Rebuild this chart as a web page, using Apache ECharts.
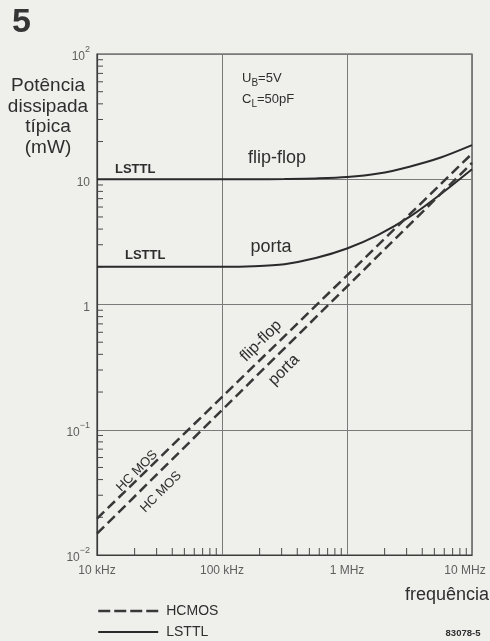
<!DOCTYPE html>
<html>
<head>
<meta charset="utf-8">
<script src="https://cdn.jsdelivr.net/npm/echarts@6/dist/echarts.min.js"></script>
<style>
html, body { margin: 0; padding: 0; background: #efefec; }
#chart { width: 490px; height: 641px; }
</style>
</head>
<body>
<div id="chart"></div>
<script>
// Frequency in kHz (quarter-decade steps), power in mW
const freqSteps = [10, 17.8, 31.6, 56.2, 100, 178, 316, 562, 1000, 1780, 3160, 5620, 10000];
const lsttlFlipFlop = [10, 10, 10, 10, 10, 10, 10.05, 10.15, 10.4, 11.1, 12.6, 14.9, 18.7];
const lsttlGate = [2, 2, 2, 2, 2, 2.02, 2.1, 2.35, 2.8, 3.6, 5.0, 7.6, 12];
// HCMOS dissipation rises straight on log-log scales: end points only
const hcmosFreq = [10, 10000];
const hcmosFlipFlop = [0.0195, 16];
const hcmosGate = [0.0148, 13.5];

const xTickValues = [10, 100, 1000, 10000];
const xTickLabels = ['10 kHz', '100 kHz', '1 MHz', '10 MHz'];
const yTickValues = [0.01, 0.1, 1, 10, 100];
const yTickBases = ['10', '10', '1', '10', '10'];
const yTickExps = ['−2', '−1', '', '', '2'];
const minorSteps = [2, 3, 4, 5, 6, 7, 8, 9];

const ink = '#2e2e2e';
const soft = '#5e5e5e';
const sans = '"Liberation Sans", Arial, sans-serif';

const pairs = (xs, ys) => xs.map((x, i) => [x, ys[i]]);

const xMinor = [];
xTickValues.slice(0, -1).forEach(d => minorSteps.forEach(m => xMinor.push([d * m, 0.01])));
const yMinor = [];
yTickValues.slice(0, -1).forEach(d => minorSteps.forEach(m => yMinor.push([10, d * m])));

function nearestIndex(list, v) {
  let best = 0;
  list.forEach((t, i) => {
    if (Math.abs(Math.log10(t) - Math.log10(v)) < Math.abs(Math.log10(list[best]) - Math.log10(v))) best = i;
  });
  return best;
}

const solidStyle = { color: '#2a2a2a', width: 2 };
const dashStyle = { color: '#383838', width: 2.5, type: [10, 5] };

const chart = echarts.init(document.getElementById('chart'), null, { renderer: 'canvas' });

chart.setOption({
  backgroundColor: '#efefec',
  animation: false,
  grid: { left: 97, right: 18, top: 54, bottom: 86, show: true, borderColor: '#3c3c3c', borderWidth: 1.2, backgroundColor: 'transparent' },
  xAxis: {
    type: 'log', logBase: 10, min: 10, max: 10000,
    axisLine: { show: true, lineStyle: { color: '#3c3c3c', width: 1.2 } },
    axisTick: { show: false },
    splitLine: { show: true, lineStyle: { color: '#7a7a7a', width: 1 } },
    axisLabel: {
      margin: 10,
      formatter: v => {
        const i = nearestIndex(xTickValues, v);
        return i === xTickValues.length - 1 ? '{r|' + xTickLabels[i] + '}' : xTickLabels[i];
      },
      color: soft, fontFamily: sans, fontSize: 12,
      rich: { r: { color: soft, fontFamily: sans, fontSize: 12, padding: [0, 14, 0, 0] } }
    }
  },
  yAxis: {
    type: 'log', logBase: 10, min: 0.01, max: 100,
    axisLine: { show: true, lineStyle: { color: '#3c3c3c', width: 1.2 } },
    axisTick: { show: false },
    splitLine: { show: true, lineStyle: { color: '#7a7a7a', width: 1 } },
    axisLabel: {
      margin: 7,
      formatter: v => {
        const i = nearestIndex(yTickValues, v);
        return '{b|' + yTickBases[i] + '}' + (yTickExps[i] ? '{s|' + yTickExps[i] + '}' : '');
      },
      rich: {
        b: { color: soft, fontFamily: sans, fontSize: 12, lineHeight: 18, verticalAlign: 'bottom' },
        s: { color: soft, fontFamily: sans, fontSize: 9, lineHeight: 18, verticalAlign: 'top' }
      }
    }
  },
  legend: {
    orient: 'vertical', left: 97, top: 604, padding: 0, itemWidth: 60, itemHeight: 14, itemGap: 7,
    selectedMode: false,
    itemStyle: { opacity: 0 },
    data: [
      { name: 'HCMOS', lineStyle: { type: [12, 4], width: 2.5, color: '#383838' }, itemStyle: { opacity: 0 } },
      { name: 'LSTTL', lineStyle: { width: 2, color: '#2a2a2a' }, itemStyle: { opacity: 0 } }
    ],
    textStyle: { color: ink, fontFamily: sans, fontSize: 14, padding: [0, 0, 0, 3] }
  },
  series: [
    { name: 'LSTTL', type: 'line', data: pairs(freqSteps, lsttlFlipFlop), symbol: 'none', smooth: 0.3,
      lineStyle: solidStyle, itemStyle: { color: solidStyle.color } },
    { name: 'LSTTL', type: 'line', data: pairs(freqSteps, lsttlGate), symbol: 'none', smooth: 0.3,
      lineStyle: solidStyle, itemStyle: { color: solidStyle.color } },
    { name: 'HCMOS', type: 'line', data: pairs(hcmosFreq, hcmosFlipFlop), symbol: 'none',
      lineStyle: dashStyle, itemStyle: { color: dashStyle.color } },
    { name: 'HCMOS', type: 'line', data: pairs(hcmosFreq, hcmosGate), symbol: 'none',
      lineStyle: dashStyle, itemStyle: { color: dashStyle.color } },
    { name: 'xMinor', type: 'custom', silent: true, data: xMinor,
      renderItem: (p, api) => {
        const pt = api.coord([api.value(0), api.value(1)]);
        return { type: 'line', shape: { x1: pt[0], y1: pt[1], x2: pt[0], y2: pt[1] - 7 }, style: { stroke: '#4a4a4a', lineWidth: 1 } };
      } },
    { name: 'yMinor', type: 'custom', silent: true, data: yMinor,
      renderItem: (p, api) => {
        const pt = api.coord([api.value(0), api.value(1)]);
        return { type: 'line', shape: { x1: pt[0], y1: pt[1], x2: pt[0] + 6, y2: pt[1] }, style: { stroke: '#4a4a4a', lineWidth: 1 } };
      } }
  ],
  graphic: [
    { type: 'text', x: 21.5, y: 23, style: { text: '5', font: 'bold 34px ' + sans, fill: '#353535', align: 'center', verticalAlign: 'middle' } },
    { type: 'text', x: 48, y: 117, style: { text: 'Potência\ndissipada\ntípica\n(mW)', font: '19px ' + sans, lineHeight: 20.5, fill: ink, align: 'center', verticalAlign: 'middle' } },
    { type: 'text', x: 242, y: 78, style: { text: '{n|U}{d|B}{n|=5V}', align: 'left', verticalAlign: 'middle',
      rich: { n: { font: '13px ' + sans, fill: ink, lineHeight: 20, verticalAlign: 'middle' }, d: { font: '10px ' + sans, fill: ink, lineHeight: 20, verticalAlign: 'bottom' } } } },
    { type: 'text', x: 242, y: 99, style: { text: '{n|C}{d|L}{n|=50pF}', align: 'left', verticalAlign: 'middle',
      rich: { n: { font: '13px ' + sans, fill: ink, lineHeight: 20, verticalAlign: 'middle' }, d: { font: '10px ' + sans, fill: ink, lineHeight: 20, verticalAlign: 'bottom' } } } },
    { type: 'text', x: 277, y: 158, style: { text: 'flip-flop', font: '18px ' + sans, fill: ink, align: 'center', verticalAlign: 'middle' } },
    { type: 'text', x: 271, y: 247, style: { text: 'porta', font: '18px ' + sans, fill: ink, align: 'center', verticalAlign: 'middle' } },
    { type: 'text', x: 115, y: 169, style: { text: 'LSTTL', font: 'bold 13px ' + sans, fill: ink, align: 'left', verticalAlign: 'middle' } },
    { type: 'text', x: 125, y: 255, style: { text: 'LSTTL', font: 'bold 13px ' + sans, fill: ink, align: 'left', verticalAlign: 'middle' } },
    { type: 'text', x: 261, y: 341, rotation: Math.PI / 4, style: { text: 'flip-flop', font: '16px ' + sans, fill: ink, align: 'center', verticalAlign: 'middle' } },
    { type: 'text', x: 284, y: 370, rotation: Math.PI / 4, style: { text: 'porta', font: '16px ' + sans, fill: ink, align: 'center', verticalAlign: 'middle' } },
    { type: 'text', x: 137, y: 471, rotation: Math.PI / 4, style: { text: 'HC MOS', font: '13px ' + sans, fill: ink, align: 'center', verticalAlign: 'middle' } },
    { type: 'text', x: 161, y: 492, rotation: Math.PI / 4, style: { text: 'HC MOS', font: '13px ' + sans, fill: ink, align: 'center', verticalAlign: 'middle' } },
    { type: 'text', x: 489, y: 595, style: { text: 'frequência', font: '18px ' + sans, fill: ink, align: 'right', verticalAlign: 'middle' } },
    { type: 'text', x: 463, y: 633, style: { text: '83078-5', font: 'bold 9.5px ' + sans, fill: ink, align: 'center', verticalAlign: 'middle' } }
  ]
});
</script>
</body>
</html>
